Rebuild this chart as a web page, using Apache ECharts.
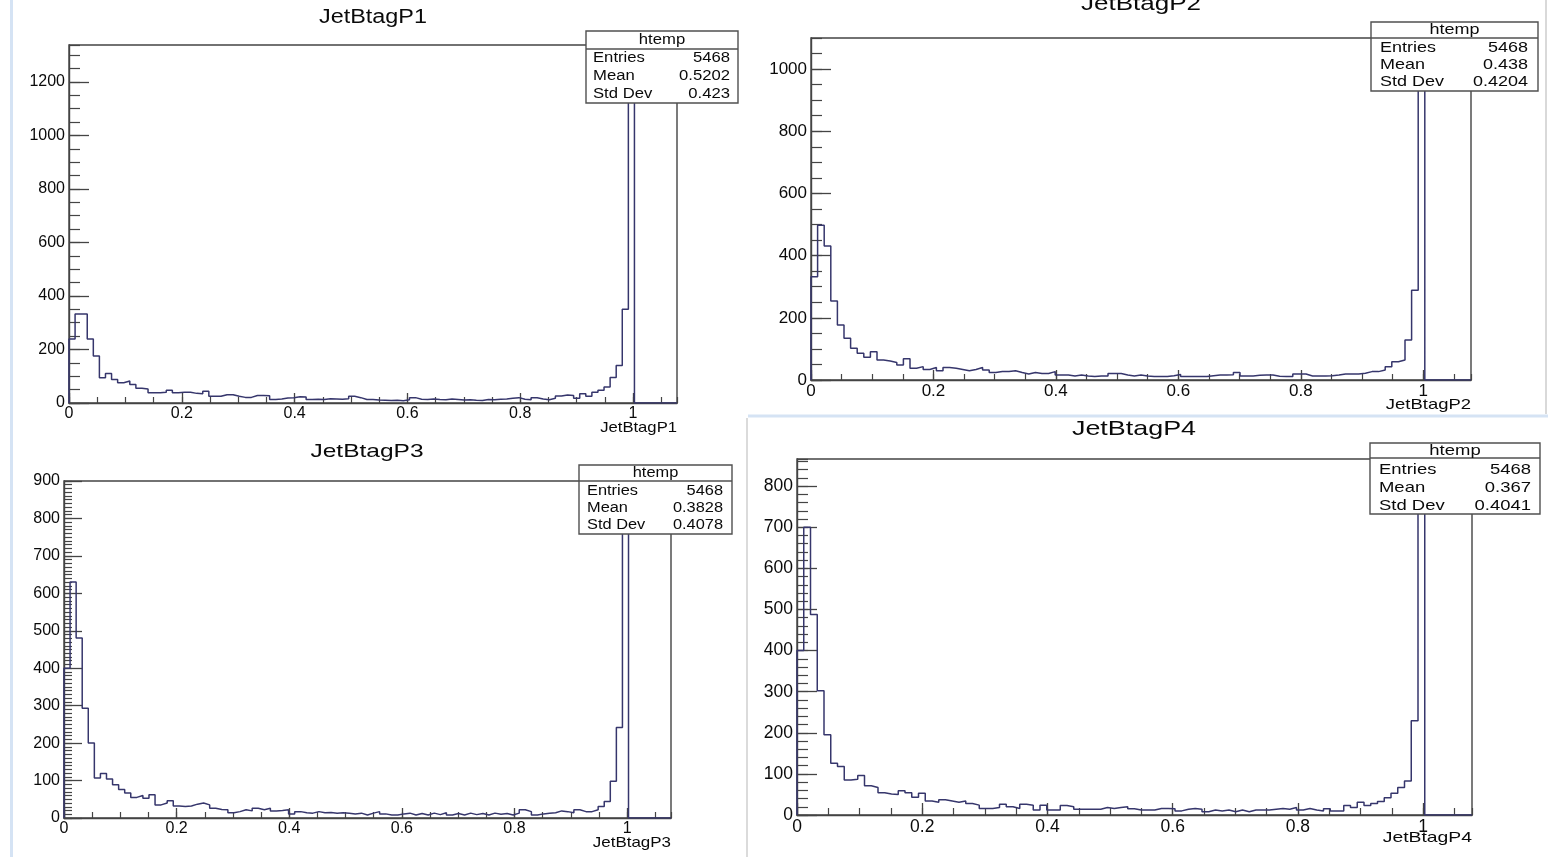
<!DOCTYPE html>
<html>
<head>
<meta charset="utf-8">
<script src="https://cdn.jsdelivr.net/npm/echarts@6/dist/echarts.min.js"></script>
<style>
html,body{margin:0;padding:0;background:#ffffff;}
#chart{width:1548px;height:857px;}
</style>
</head>
<body>
<div id="chart"></div>
<script>
// ---------------- data ----------------
const BIN_COUNT = 100;
const X_MAX = 1.078;
const panelNames = ['JetBtagP1', 'JetBtagP2', 'JetBtagP3', 'JetBtagP4'];
const statLabels = ['Entries', 'Mean', 'Std Dev'];
const statTitle = 'htemp';
const p1Stats = ['5468', '0.5202', '0.423'];
const p2Stats = ['5468', '0.438', '0.4204'];
const p3Stats = ['5468', '0.3828', '0.4078'];
const p4Stats = ['5468', '0.367', '0.4041'];
const xTickLabels = ['0', '0.2', '0.4', '0.6', '0.8', '1'];
const p1YTicks = ['0', '200', '400', '600', '800', '1000', '1200'];
const p2YTicks = ['0', '200', '400', '600', '800', '1000'];
const p3YTicks = ['0', '100', '200', '300', '400', '500', '600', '700', '800', '900'];
const p4YTicks = ['0', '100', '200', '300', '400', '500', '600', '700', '800'];

// bin contents (100 bins of width X_MAX/100; bins after index 92 are empty)
const p1Values = [
  239, 333, 333, 239, 176, 94, 110, 88, 76, 82,
  69, 55, 52, 38, 38, 40, 48, 38, 40, 40,
  36, 35, 44, 25, 25, 31, 31, 25, 21, 21,
  28, 28, 27, 13, 15, 19, 20, 23, 22, 13,
  14, 13, 16, 15, 14, 16, 25, 20, 13, 13,
  11, 10, 9, 10, 8, 12, 20, 14, 13, 15,
  13, 12, 15, 13, 11, 12, 10, 9, 13, 12,
  14, 15, 18, 20, 14, 12, 20, 15, 12, 18,
  26, 30, 28, 18, 35, 25, 40, 48, 60, 95,
  140, 350, 1274];
const p2Values = [
  332, 498, 431, 254, 177, 134, 102, 86, 73, 91,
  64, 61, 56, 48, 68, 38, 43, 34, 40, 30,
  40, 38, 34, 30, 34, 40, 32, 24, 27, 27,
  30, 24, 19, 24, 21, 21, 27, 16, 16, 13,
  16, 13, 11, 13, 13, 21, 21, 16, 13, 16,
  13, 11, 11, 11, 14, 18, 11, 11, 11, 11,
  14, 16, 16, 17, 24, 13, 13, 15, 16, 16,
  12, 11, 11, 19, 19, 13, 13, 13, 14, 16,
  19, 19, 19, 22, 27, 27, 32, 43, 59, 64,
  129, 289, 1048];
const p3Values = [
  400, 630, 481, 293, 200, 107, 119, 104, 89, 76,
  67, 55, 60, 53, 62, 35, 40, 46, 32, 31,
  32, 37, 40, 35, 26, 23, 22, 14, 17, 22,
  19, 26, 22, 26, 19, 20, 22, 11, 17, 14,
  13, 17, 14, 15, 13, 14, 13, 11, 13, 8,
  13, 17, 11, 8, 8, 11, 13, 8, 12, 8,
  13, 9, 14, 8, 12, 8, 13, 9, 12, 8,
  13, 10, 12, 8, 13, 22, 17, 8, 11, 13,
  14, 19, 17, 14, 22, 17, 17, 22, 31, 44,
  98, 242, 857];
const p4Values = [
  400, 700, 488, 302, 195, 126, 118, 85, 87, 96,
  71, 67, 54, 51, 50, 59, 54, 43, 53, 34,
  31, 37, 34, 31, 34, 28, 24, 16, 16, 18,
  26, 20, 16, 26, 24, 12, 24, 12, 12, 23,
  20, 14, 14, 14, 14, 18, 16, 18, 20, 15,
  12, 12, 12, 16, 16, 15, 10, 14, 16, 14,
  8, 12, 10, 12, 8, 12, 8, 12, 12, 12,
  14, 16, 14, 18, 12, 16, 12, 10, 15, 10,
  10, 23, 18, 31, 23, 28, 33, 42, 53, 67,
  83, 229, 825];

const allValues = [p1Values, p2Values, p3Values, p4Values];
const allStats = [p1Stats, p2Stats, p3Stats, p4Stats];
const allYTicks = [p1YTicks, p2YTicks, p3YTicks, p4YTicks];

// ---------------- layout / style ----------------
const FONT = "'Liberation Sans', Arial, Helvetica, sans-serif";
const LINE = '#36366c';
const FRAME = '#444444';
const TEXT = '#0a0a0a';
const layout = [
  { grid: {left: 69, top: 45, width: 608, height: 358}, yMax: 1338, yStep: 200, yMinor: 50, font: 16,
    yTick: [20, 11], xTick: [10, 6], showMax: false,
    title: {cx: 373, cy: 17, size: 20, sx: 1.17},
    box: {x: 586, y: 31, w: 152, h: 72, head: 18, rowOff: 9, rowH: 18, padL: 7, padR: 8, size: 14, sx: 1.19},
    xName: {cy: 428, size: 15, sx: 1.11} },
  { grid: {left: 811, top: 38, width: 660, height: 342}, yMax: 1100, yStep: 200, yMinor: 50, font: 17,
    yTick: [20, 11], xTick: [10, 6], showMax: false,
    title: {cx: 1141, cy: 4, size: 21, sx: 1.24},
    box: {x: 1371, y: 22, w: 167, h: 69, head: 16, rowOff: 10, rowH: 17, padL: 9, padR: 10, size: 14.5, sx: 1.24},
    xName: {cy: 405, size: 15, sx: 1.23} },
  { grid: {left: 64, top: 481, width: 607, height: 337}, yMax: 900, yStep: 100, yMinor: 10, font: 16,
    yTick: [18, 8], xTick: [10, 6], showMax: true,
    title: {cx: 367, cy: 452, size: 19, sx: 1.29},
    box: {x: 579, y: 465, w: 153, h: 69, head: 16, rowOff: 10, rowH: 17, padL: 8, padR: 9, size: 14, sx: 1.17},
    xName: {cy: 843, size: 15, sx: 1.13} },
  { grid: {left: 797, top: 459, width: 675, height: 356}, yMax: 866, yStep: 100, yMinor: 20, font: 17.5,
    yTick: [20, 11], xTick: [12, 7], showMax: false,
    title: {cx: 1134, cy: 429, size: 21, sx: 1.28},
    box: {x: 1370, y: 443, w: 170, h: 71, head: 15, rowOff: 12, rowH: 18, padL: 9, padR: 9, size: 15, sx: 1.23},
    xName: {cy: 838, size: 15, sx: 1.29} }
];

function histPoints(vals) {
  const w = X_MAX / BIN_COUNT;
  const pts = [[0, 0]];
  for (let i = 0; i < BIN_COUNT; i++) {
    const v = vals[i] || 0;
    pts.push([i * w, v]);
    pts.push([(i + 1) * w, v]);
  }
  pts.push([X_MAX, 0]);
  return pts;
}

const grids = [], xAxes = [], yAxes = [], series = [], graphics = [];

layout.forEach((L, k) => {
  const g = L.grid;
  grids.push(Object.assign({show: true, borderColor: FRAME, borderWidth: 1.4,
    backgroundColor: 'rgba(0,0,0,0)', containLabel: false, outerBoundsMode: 'none'}, g));
  const labelStyle = {color: TEXT, fontSize: L.font, fontFamily: FONT};
  // major x axis
  xAxes.push({type: 'value', gridIndex: k, min: 0, max: X_MAX, interval: 0.2,
    axisLine: {show: true, lineStyle: {color: FRAME, width: 1.4}},
    axisTick: {show: true, inside: true, length: L.xTick[0], lineStyle: {color: FRAME, width: 1.3}},
    axisLabel: Object.assign({show: true, margin: 3, showMaxLabel: false,
      formatter: v => { const i = Math.round(v / 0.2); return Math.abs(v - i * 0.2) < 1e-6 && xTickLabels[i] !== undefined ? xTickLabels[i] : ''; }}, labelStyle),
    splitLine: {show: false}, minorTick: {show: false}});
  // minor x ticks
  xAxes.push({type: 'value', gridIndex: k, min: 0, max: X_MAX, interval: 0.05, position: 'bottom',
    axisLine: {show: false}, axisLabel: {show: false}, splitLine: {show: false},
    axisTick: {show: true, inside: true, length: L.xTick[1], lineStyle: {color: FRAME, width: 1.2}}});
  // major y axis
  const yt = allYTicks[k];
  yAxes.push({type: 'value', gridIndex: k, min: 0, max: L.yMax, interval: L.yStep,
    axisLine: {show: true, lineStyle: {color: FRAME, width: 1.4}},
    axisTick: {show: true, inside: true, length: L.yTick[0], lineStyle: {color: FRAME, width: 1.3}},
    axisLabel: Object.assign({show: true, margin: 4, showMaxLabel: L.showMax,
      formatter: v => { const i = Math.round(v / L.yStep); return Math.abs(v - i * L.yStep) < 1e-6 && yt[i] !== undefined ? yt[i] : ''; }}, labelStyle),
    splitLine: {show: false}, minorTick: {show: false}});
  // minor y ticks
  yAxes.push({type: 'value', gridIndex: k, min: 0, max: L.yMax, interval: L.yMinor, position: 'left',
    axisLine: {show: false}, axisLabel: {show: false}, splitLine: {show: false},
    axisTick: {show: true, inside: true, length: L.yTick[1], lineStyle: {color: FRAME, width: 1.2}}});

  series.push({type: 'line', name: panelNames[k], xAxisIndex: 2 * k, yAxisIndex: 2 * k,
    data: histPoints(allValues[k]), showSymbol: false, symbol: 'none', clip: true,
    lineStyle: {color: LINE, width: 1.5}, z: 3, animation: false});

  // title
  graphics.push({type: 'text', x: L.title.cx, y: L.title.cy, scaleX: L.title.sx, z: 20,
    style: {text: panelNames[k], x: 0, y: 0, fill: TEXT, fontSize: L.title.size, fontFamily: FONT,
      align: 'center', verticalAlign: 'middle'}});
  // x-axis title
  graphics.push({type: 'text', x: g.left + g.width, y: L.xName.cy, scaleX: L.xName.sx, z: 20,
    style: {text: panelNames[k], x: 0, y: 0, fill: TEXT, fontSize: L.xName.size, fontFamily: FONT,
      align: 'right', verticalAlign: 'middle'}});
  // stats box
  const B = L.box;
  graphics.push({type: 'rect', z: 30, shape: {x: B.x, y: B.y, width: B.w, height: B.h},
    style: {fill: '#ffffff', stroke: '#505050', lineWidth: 1.4}});
  graphics.push({type: 'line', z: 31, shape: {x1: B.x, y1: B.y + B.head, x2: B.x + B.w, y2: B.y + B.head},
    style: {stroke: '#505050', lineWidth: 1.3}});
  graphics.push({type: 'text', x: B.x + B.w / 2, y: B.y + B.head / 2, scaleX: B.sx, z: 32,
    style: {text: statTitle, x: 0, y: 0, fill: TEXT, fontSize: B.size, fontFamily: FONT, align: 'center', verticalAlign: 'middle'}});
  statLabels.forEach((lab, r) => {
    const cy = B.y + B.head + B.rowOff + r * B.rowH;
    graphics.push({type: 'text', x: B.x + B.padL, y: cy, scaleX: B.sx, z: 32,
      style: {text: lab, x: 0, y: 0, fill: TEXT, fontSize: B.size, fontFamily: FONT, align: 'left', verticalAlign: 'middle'}});
    graphics.push({type: 'text', x: B.x + B.w - B.padR, y: cy, scaleX: B.sx, z: 32,
      style: {text: allStats[k][r], x: 0, y: 0, fill: TEXT, fontSize: B.size, fontFamily: FONT, align: 'right', verticalAlign: 'middle'}});
  });
});

// screenshot separators
graphics.push({type: 'line', z: 1, shape: {x1: 11.5, y1: 0, x2: 11.5, y2: 857}, style: {stroke: '#d5e3f4', lineWidth: 3}});
graphics.push({type: 'line', z: 1, shape: {x1: 748, y1: 416, x2: 1548, y2: 416}, style: {stroke: '#d5e3f4', lineWidth: 3}});
graphics.push({type: 'line', z: 1, shape: {x1: 747, y1: 418, x2: 747, y2: 857}, style: {stroke: '#cfcfcf', lineWidth: 1.5}});
graphics.push({type: 'line', z: 1, shape: {x1: 1546, y1: 0, x2: 1546, y2: 414}, style: {stroke: '#cccccc', lineWidth: 1.5}});

const chart = echarts.init(document.getElementById('chart'), null, {renderer: 'canvas'});
chart.setOption({
  animation: false,
  backgroundColor: '#ffffff',
  grid: grids,
  xAxis: xAxes,
  yAxis: yAxes,
  series: series,
  graphic: graphics
});
</script>
</body>
</html>
